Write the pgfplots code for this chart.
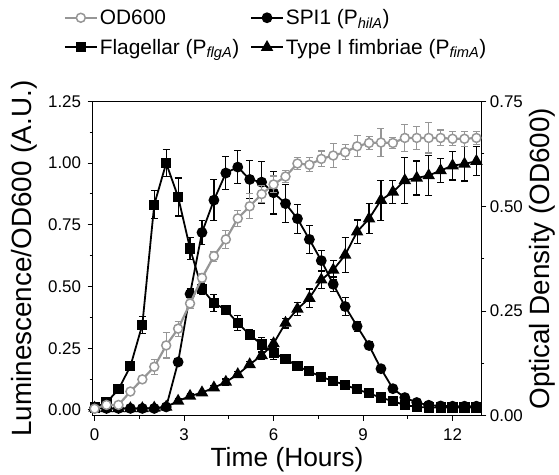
\documentclass[border=0pt]{standalone}
\usepackage{fontspec}
\setmainfont{Liberation Sans}
\usepackage{pgfplots}
\pgfplotsset{compat=1.18}
\usepackage{pgfplotstable}

\pgfplotstableread{
t spi spie flg flge fim fime
0.0 0.008 0.004 0.010 0.005 0.008 0.004
0.4 0.006 0.004 0.030 0.008 0.006 0.004
0.8 0.006 0.004 0.083 0.010 0.006 0.004
1.2 0.006 0.004 0.177 0.012 0.006 0.004
1.6 0.006 0.004 0.345 0.034 0.006 0.004
2.0 0.006 0.004 0.832 0.056 0.008 0.004
2.4 0.012 0.004 1.000 0.055 0.012 0.004
2.8 0.194 0.010 0.863 0.077 0.036 0.010
3.2 0.470 0.020 0.654 0.044 0.056 0.010
3.6 0.719 0.048 0.490 0.020 0.070 0.010
4.0 0.850 0.083 0.433 0.034 0.090 0.010
4.4 0.960 0.067 0.406 0.015 0.113 0.012
4.8 0.984 0.068 0.352 0.030 0.144 0.012
5.2 0.934 0.077 0.305 0.020 0.184 0.012
5.6 0.923 0.085 0.265 0.030 0.221 0.015
6.0 0.880 0.086 0.231 0.027 0.269 0.015
6.4 0.836 0.077 0.207 0.010 0.352 0.020
6.8 0.775 0.059 0.177 0.010 0.409 0.025
7.2 0.691 0.057 0.156 0.008 0.453 0.037
7.6 0.605 0.040 0.134 0.008 0.527 0.035
8.0 0.509 0.030 0.117 0.008 0.567 0.040
8.4 0.419 0.038 0.101 0.007 0.628 0.070
8.8 0.339 0.020 0.083 0.006 0.722 0.048
9.2 0.261 0.015 0.067 0.006 0.775 0.060
9.6 0.167 0.010 0.050 0.005 0.850 0.081
10.0 0.086 0.008 0.035 0.005 0.883 0.047
10.4 0.050 0.006 0.020 0.005 0.930 0.092
10.8 0.030 0.005 0.012 0.004 0.940 0.069
11.2 0.019 0.004 0.010 0.004 0.950 0.081
11.6 0.016 0.004 0.010 0.004 0.970 0.049
12.0 0.015 0.004 0.010 0.004 0.990 0.058
12.4 0.015 0.004 0.010 0.004 0.997 0.069
12.8 0.015 0.004 0.010 0.004 1.008 0.059
}\lumtab

\pgfplotstableread{
t od ode
0.0 0.017 0.004
0.4 0.026 0.004
0.8 0.026 0.004
1.2 0.058 0.005
1.6 0.087 0.008
2.0 0.117 0.018
2.4 0.168 0.030
2.8 0.208 0.018
3.2 0.268 0.012
3.6 0.329 0.010
4.0 0.381 0.012
4.4 0.421 0.022
4.8 0.471 0.019
5.2 0.500 0.030
5.6 0.529 0.021
6.0 0.552 0.020
6.4 0.571 0.015
6.8 0.602 0.015
7.2 0.599 0.017
7.6 0.613 0.019
8.0 0.621 0.028
8.4 0.629 0.018
8.8 0.643 0.025
9.2 0.651 0.016
9.6 0.652 0.034
10.0 0.651 0.013
10.4 0.663 0.032
10.8 0.663 0.027
11.2 0.663 0.036
11.6 0.663 0.019
12.0 0.661 0.017
12.4 0.661 0.018
12.8 0.663 0.016
}\odtab

\definecolor{odgray}{RGB}{150,150,150}

\pgfplotsset{
  common/.style={
    scale only axis, width=391pt, height=316pt,
    xmin=-0.07, xmax=12.97,
    tick align=outside, major tick length=5pt, minor tick length=3pt,
    minor tick num=1,
    every tick/.style={black, line width=1pt},
    axis line style={line width=1.2pt},
    tick label style={font=\fontsize{17}{20}\selectfont},
    /pgf/number format/assume math mode=true,
    ylabel style={font=\fontsize{28}{32}\selectfont},
    xlabel style={font=\fontsize{26.5}{30}\selectfont},
    yticklabel style={/pgf/number format/fixed, /pgf/number format/fixed zerofill, /pgf/number format/precision=2},
    legend image code/.code={\draw[mark repeat=2, mark phase=2] plot coordinates {(0pt,0pt) (16pt,0pt) (32pt,0pt)};},
  },
  blk/.style={black, line width=1.8pt, solid,
    error bars/y dir=both, error bars/y explicit,
    error bars/error bar style={line width=1.2pt, black},
    error bars/error mark options={rotate=90, line width=1.2pt, mark size=3.5pt, black}},
}

\begin{document}
\begin{tikzpicture}
\begin{axis}[common, name=ax1,
  ymin=-0.024, ymax=1.25,
  ytick={0,0.25,0.5,0.75,1,1.25},
  xtick={0,3,6,9,12},
  xtick pos=bottom, ytick pos=left,
  xticklabel style={/tikz/yshift=-4pt},
  yticklabel style={/tikz/xshift=-3pt},
  xlabel={Time (Hours)},
  ylabel={Luminescence/OD600 (A.U.)},
  ylabel shift=4pt,
  legend columns=2,
  legend cell align=left,
  legend style={at={(-0.082,1.306)}, anchor=north west, draw=none, fill=none,
    font=\fontsize{21}{25}\selectfont, row sep=9pt,
    /tikz/every even column/.append style={column sep=9pt}},
]
\addlegendimage{odgray, line width=2.2pt, mark=*, mark size=4.5pt, mark options={fill=white, draw=odgray, line width=1.5pt}}
\addlegendentry{OD600}
\addplot[blk, mark=*, mark size=4.5pt, mark options={fill=black, solid}]
  table[x=t, y=spi, y error=spie]{\lumtab};
\addlegendentry{SPI1 (P\textsubscript{\textit{hilA}})}
\addplot[blk, mark=square*, mark size=4.2pt, mark options={fill=black, solid}]
  table[x=t, y=flg, y error=flge]{\lumtab};
\addlegendentry{Flagellar (P\textsubscript{\textit{flgA}})}
\addplot[blk, mark=triangle*, mark size=5.5pt, mark options={fill=black, solid}]
  table[x=t, y=fim, y error=fime]{\lumtab};
\addlegendentry{Type I fimbriae (P\textsubscript{\textit{fimA}})}
\end{axis}
\begin{axis}[common,
  ymin=0, ymax=0.75,
  ytick={0,0.25,0.5,0.75},
  axis y line*=right, axis x line=none,
  ylabel={Optical Density (OD600)},
]
\addplot[odgray, line width=2.2pt, mark=*, mark size=4.5pt,
  mark options={fill=white, draw=odgray, line width=1.5pt, solid},
  error bars/y dir=both, error bars/y explicit,
  error bars/error bar style={line width=1.2pt, odgray},
  error bars/error mark options={rotate=90, line width=1.2pt, mark size=3.5pt, odgray}]
  table[x=t, y=od, y error=ode]{\odtab};
\end{axis}
\path (ax1.north west) ++(-93pt,102pt);
\end{tikzpicture}
\end{document}
